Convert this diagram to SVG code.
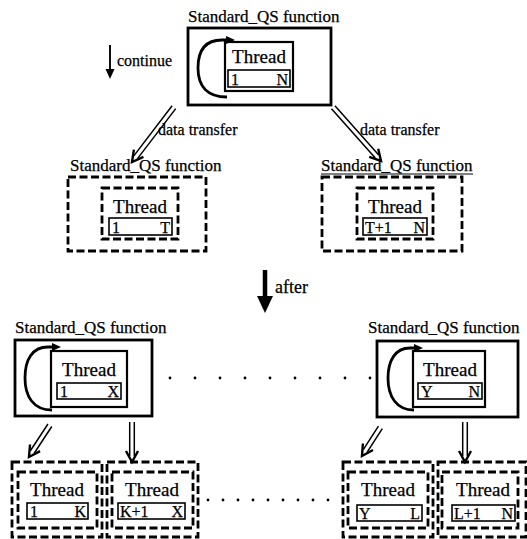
<svg xmlns="http://www.w3.org/2000/svg" width="527" height="539" viewBox="0 0 527 539">
<style>
text { font-family: "Liberation Serif", "Times New Roman", serif; fill: #000; stroke: #000; stroke-width: 0.25; }
.title { font-size: 17px; }
.thr { font-size: 19px; text-anchor: middle; }
.rng { font-size: 16px; }
.end { text-anchor: end; }
.lbl { font-size: 16px; }
.solid { fill: none; stroke: #000; stroke-width: 2.8; }
.inner { fill: none; stroke: #000; stroke-width: 2.2; }
.range { fill: none; stroke: #000; stroke-width: 1.6; }
.dash { fill: none; stroke: #000; stroke-width: 2.8; stroke-dasharray: 8 3.5; }
.loop { fill: none; stroke: #000; stroke-width: 2.8; }
.shaft { fill: none; stroke: #000; stroke-width: 1.5; }
.head { fill: none; stroke: #000; stroke-width: 2.4; }
.dot { fill: #000; }
</style>
<rect width="527" height="539" fill="#fff"/>

<!-- top function: thread over 1..N -->
<g id="fn-top">
  <text class="title" x="188" y="22">Standard_QS function</text>
  <rect class="solid" x="188" y="28" width="143" height="77"/>
  <rect class="inner" x="225" y="42" width="68" height="49"/>
  <text class="thr" x="259" y="63">Thread</text>
  <rect class="range" x="228" y="70" width="62" height="17"/>
  <text class="rng" x="231" y="85">1</text>
  <text class="rng end" x="288" y="85">N</text>
</g>

<!-- middle row: split into 1..T and T+1..N -->
<g id="fn-mid-left">
  <text class="title" x="70" y="171">Standard_QS function</text>
  <rect class="dash" x="68" y="177" width="138" height="74"/>
  <rect class="dash" x="102" y="188" width="76" height="51"/>
  <text class="thr" x="140" y="213">Thread</text>
  <rect class="range" x="109" y="218" width="63" height="17"/>
  <text class="rng" x="112" y="233">1</text>
  <text class="rng end" x="170" y="233">T</text>
</g>
<g id="fn-mid-right">
  <text class="title" x="321" y="171">Standard_QS function</text>
  <line x1="321" y1="174" x2="473" y2="174" stroke="#000" stroke-width="1"/>
  <rect class="dash" x="322" y="177" width="140" height="74"/>
  <rect class="dash" x="357" y="188" width="76" height="51"/>
  <text class="thr" x="395" y="213">Thread</text>
  <rect class="range" x="363" y="218" width="64" height="17"/>
  <text class="rng" x="365" y="233">T+1</text>
  <text class="rng end" x="425" y="233">N</text>
</g>

<!-- bottom row: functions over 1..X and Y..N -->
<g id="fn-bot-left">
  <text class="title" x="15" y="333">Standard_QS function</text>
  <rect class="solid" x="15" y="340" width="137" height="76"/>
  <rect class="inner" x="51" y="351" width="76" height="56"/>
  <text class="thr" x="89" y="376">Thread</text>
  <rect class="range" x="57" y="383" width="64" height="16"/>
  <text class="rng" x="60" y="397">1</text>
  <text class="rng end" x="119" y="397">X</text>
</g>
<g id="fn-bot-right">
  <text class="title" x="368" y="333">Standard_QS function</text>
  <rect class="solid" x="377" y="341" width="141" height="76"/>
  <rect class="inner" x="413" y="351" width="72" height="56"/>
  <text class="thr" x="450" y="376">Thread</text>
  <rect class="range" x="418" y="383" width="64" height="16"/>
  <text class="rng" x="421" y="397">Y</text>
  <text class="rng end" x="480" y="397">N</text>
</g>

<!-- bottom split threads -->
<g id="th-1-K">
  <rect class="dash" x="12" y="462" width="90" height="75"/>
  <rect class="dash" x="18" y="472" width="79" height="56"/>
  <text class="thr" x="57" y="496">Thread</text>
  <rect class="range" x="27" y="503" width="61" height="16"/>
  <text class="rng" x="30" y="517">1</text>
  <text class="rng end" x="86" y="517">K</text>
</g>
<g id="th-K1-X">
  <rect class="dash" x="107" y="462" width="91" height="75"/>
  <rect class="dash" x="112" y="472" width="81" height="56"/>
  <text class="thr" x="152" y="496">Thread</text>
  <rect class="range" x="118" y="503" width="67" height="16"/>
  <text class="rng" x="120" y="517">K+1</text>
  <text class="rng end" x="183" y="517">X</text>
</g>
<g id="th-Y-L">
  <rect class="dash" x="343" y="462" width="90" height="75"/>
  <rect class="dash" x="348" y="472" width="80" height="56"/>
  <text class="thr" x="388" y="496">Thread</text>
  <rect class="range" x="357" y="505" width="65" height="16"/>
  <text class="rng" x="359" y="519">Y</text>
  <text class="rng end" x="420" y="519">L</text>
</g>
<g id="th-L1-N">
  <rect class="dash" x="438" y="462" width="88" height="75"/>
  <rect class="dash" x="442" y="472" width="76" height="56"/>
  <text class="thr" x="483" y="496">Thread</text>
  <rect class="range" x="452" y="505" width="63" height="16"/>
  <text class="rng" x="454" y="519">L+1</text>
  <text class="rng end" x="513" y="519">N</text>
</g>

<!-- ellipsis between repeated items -->
<g id="ellipsis">
  <circle class="dot" cx="170" cy="378" r="1.4"/><circle class="dot" cx="195" cy="378" r="1.4"/>
  <circle class="dot" cx="220" cy="378" r="1.4"/><circle class="dot" cx="245" cy="378" r="1.4"/>
  <circle class="dot" cx="270" cy="378" r="1.4"/><circle class="dot" cx="295" cy="378" r="1.4"/>
  <circle class="dot" cx="320" cy="378" r="1.4"/><circle class="dot" cx="345" cy="378" r="1.4"/>
  <circle class="dot" cx="370" cy="378" r="1.4"/>
  <circle class="dot" cx="208" cy="500" r="1.4"/><circle class="dot" cx="223" cy="500" r="1.4"/>
  <circle class="dot" cx="238" cy="500" r="1.4"/><circle class="dot" cx="253" cy="500" r="1.4"/>
  <circle class="dot" cx="268" cy="500" r="1.4"/><circle class="dot" cx="283" cy="500" r="1.4"/>
  <circle class="dot" cx="298" cy="500" r="1.4"/><circle class="dot" cx="313" cy="500" r="1.4"/>
  <circle class="dot" cx="328" cy="500" r="1.4"/>
</g>

<g id="connectors">
  <!-- self loops around each thread -->
  <path class="loop" d="M227,97 C207,97 198,86 198,68 C198,50 206,40 222,40 L228,40"/>
  <path d="M226,36 L235,40 L226,44 Z"/>
  <path class="loop" d="M52,410 C33,410 25,396 25,378 C25,360 32,347 48,347 L54,347"/>
  <path d="M52,343 L61,347 L52,351 Z"/>
  <path class="loop" d="M414,410 C396,410 388,396 388,378 C388,361 395,348 410,348 L416,348"/>
  <path d="M414,344 L423,348 L414,352 Z"/>

  <!-- continue -->
  <line x1="110" y1="45" x2="110" y2="70" stroke="#000" stroke-width="1.9"/>
  <path d="M105.5,69 L110,79 L114.5,69 Z"/>
  <text class="lbl" x="117" y="66">continue</text>

  <!-- after -->
  <line x1="265" y1="270" x2="265" y2="298" stroke="#000" stroke-width="4.5"/>
  <path d="M257,296 L265,313 L273,296 Z"/>
  <text class="lbl" x="275" y="293" style="font-size:18px">after</text>

  <!-- data transfer (double-line arrows) -->
  <g transform="translate(132,162) rotate(37.4)">
    <path class="shaft" d="M-2.3,-69 V-6 M2.3,-69 V-6"/>
    <path class="head" d="M-6,-11 L0,0 L6,-11"/>
  </g>
  <text class="lbl" x="158" y="135">data transfer</text>
  <g transform="translate(381,161) rotate(-41.6)">
    <path class="shaft" d="M-2.3,-72 V-6 M2.3,-72 V-6"/>
    <path class="head" d="M-6,-11 L0,0 L6,-11"/>
  </g>
  <text class="lbl" x="360" y="135">data transfer</text>

  <g transform="translate(29,457) rotate(33.3)">
    <path class="shaft" d="M-2.3,-38 V-6 M2.3,-38 V-6"/>
    <path class="head" d="M-6,-11 L0,0 L6,-11"/>
  </g>
  <g transform="translate(132,462)">
    <path class="shaft" d="M-2.3,-40 V-6 M2.3,-40 V-6"/>
    <path class="head" d="M-6,-11 L0,0 L6,-11"/>
  </g>
  <g transform="translate(362,456) rotate(32.7)">
    <path class="shaft" d="M-2.3,-34 V-6 M2.3,-34 V-6"/>
    <path class="head" d="M-6,-11 L0,0 L6,-11"/>
  </g>
  <g transform="translate(465,462)">
    <path class="shaft" d="M-2.3,-40 V-6 M2.3,-40 V-6"/>
    <path class="head" d="M-6,-11 L0,0 L6,-11"/>
  </g>
</g>
</svg>
